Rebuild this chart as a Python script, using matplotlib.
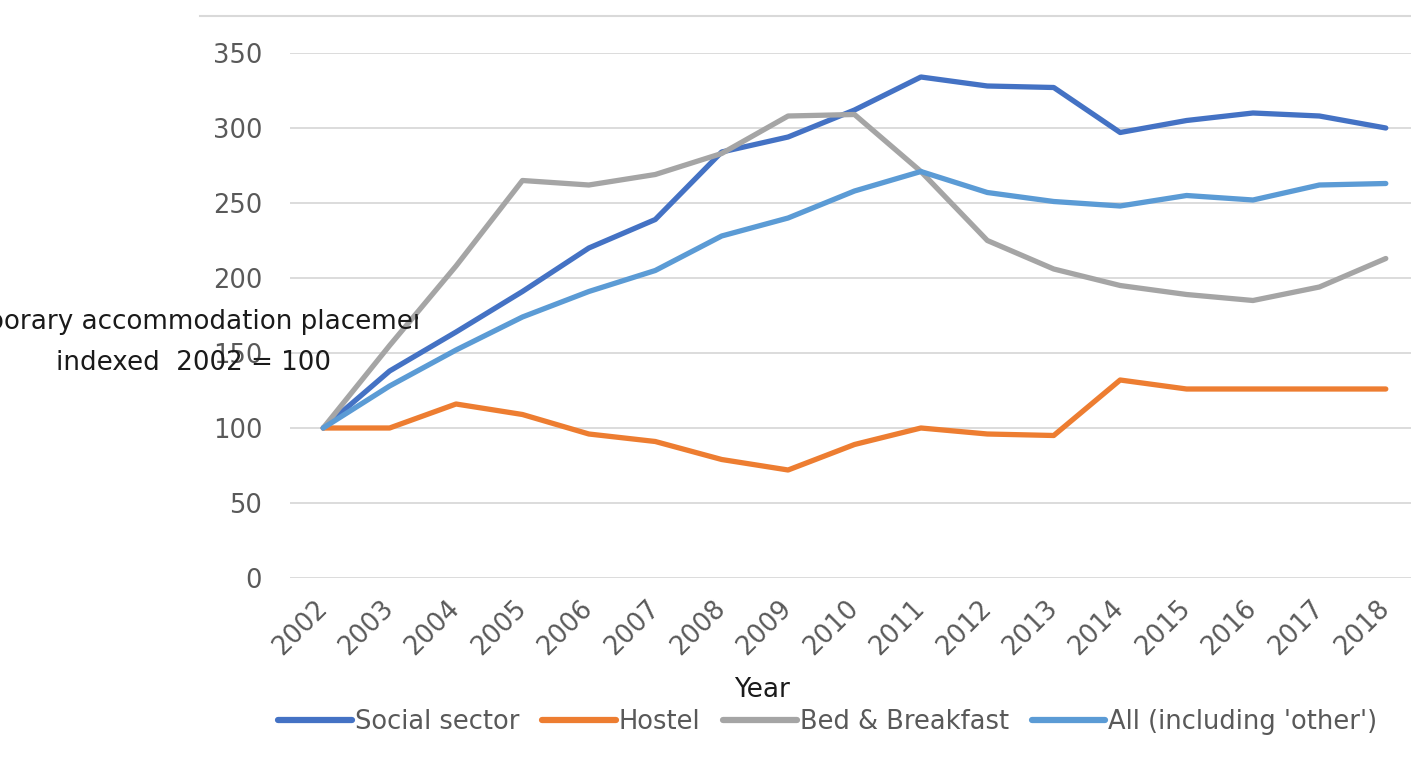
import matplotlib
matplotlib.use("Agg")
import matplotlib.pyplot as plt
from matplotlib.lines import Line2D
from matplotlib.transforms import Bbox

years = [str(y) for y in range(2002, 2019)]

social = [100, 138, 164, 191, 220, 239, 284, 294, 312, 334, 328, 327, 297, 305, 310, 308, 300]
hostel = [100, 100, 116, 109, 96, 91, 79, 72, 89, 100, 96, 95, 132, 126, 126, 126, 126]
bnb = [100, 155, 208, 265, 262, 269, 283, 308, 309, 271, 225, 206, 195, 189, 185, 194, 213]
all_types = [100, 128, 152, 174, 191, 205, 228, 240, 258, 271, 257, 251, 248, 255, 252, 262, 263]

series_names = ["Social sector", "Hostel", "Bed & Breakfast", "All (including 'other')"]
colors = ["#4472C4", "#ED7D31", "#A5A5A5", "#5B9BD5"]

W, H = 1411, 764
fig = plt.figure(figsize=(W / 100, H / 100), dpi=100)
ax = fig.add_axes([290 / W, 1 - 578 / H, (1419 - 290) / W, (578 - 53) / H])

x = list(range(len(years)))
for vals, name, c in zip([social, hostel, bnb, all_types], series_names, colors):
    ax.plot(x, vals, color=c, lw=3.8, label=name, solid_capstyle="round", solid_joinstyle="round")

ax.set_xlim(-0.5, len(years) - 0.5)
ax.set_ylim(0, 350)
ax.set_yticks(range(0, 351, 50))
ax.set_xticks(x)
ax.set_xticklabels(years, rotation=45, ha="right", va="center", rotation_mode="anchor")
ax.grid(axis="y", color="#D9D9D9", lw=1.3)
ax.set_axisbelow(True)
for s in ax.spines.values():
    s.set_visible(False)
ax.tick_params(axis="both", length=0, labelsize=18.5, labelcolor="#595959")
ax.tick_params(axis="x", pad=19)
ax.tick_params(axis="y", pad=20)

# top border line
fig.add_artist(Line2D([200 / W, 1], [1 - 16 / H] * 2, color="#D9D9D9", lw=1.5))

# y axis title, clipped like the original
yl = fig.text(194 / W, 1 - 342 / H, "Temporary accommodation placements\nindexed  2002 = 100",
              ha="center", va="center", multialignment="center", fontsize=18.8,
              color="#1a1a1a", linespacing=1.75)
yl.set_clip_box(Bbox([[0, 0], [418, H]]))
yl.set_clip_on(True)

fig.text(762 / W, 1 - 690 / H, "Year", ha="center", va="center", fontsize=19, color="#1a1a1a")

leg = fig.legend(loc="center", bbox_to_anchor=(828 / W, 1 - 722 / H), ncol=4, frameon=False,
                 fontsize=18.5, handlelength=2.85, handletextpad=0.12, columnspacing=0.9)
for t in leg.get_texts():
    t.set_color("#595959")
for l in leg.get_lines():
    l.set_linewidth(4.5)

fig.savefig("out.png", dpi=100)
